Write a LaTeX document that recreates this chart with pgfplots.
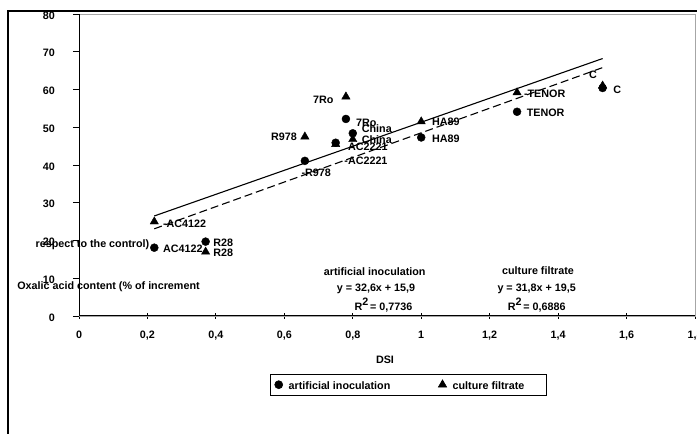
\documentclass[border=0pt]{standalone}
\usepackage{pgfplots}
\pgfplotsset{compat=1.18}
\usepackage{fontspec}
\setmainfont{Liberation Sans}
\newcommand\ff{\fontsize{10.8}{12.5}\selectfont\bfseries}
\newcommand\lstrut{\rule[-4.5bp]{0pt}{16bp}}
\begin{document}
\begin{tikzpicture}[font=\ff]
\useasboundingbox (0,0) rectangle (697bp,434bp);
\fill[white] (0,0) rectangle (697bp,434bp);
% outer frame
\draw[black, line width=2bp] (8bp,0) -- (8bp,423bp) -- (697bp,423bp);
\begin{axis}[
  at={(79bp,118bp)}, anchor=south west,
  scale only axis, width=616bp, height=302bp,
  xmin=0, xmax=1.8, ymin=0, ymax=80,
  xtick={0,0.2,0.4,0.6,0.8,1,1.2,1.4,1.6,1.8},
  ytick={0,10,20,30,40,50,60,70,80},
  xtick pos=bottom, ytick pos=left,
  xtick align=center, ytick align=outside,
  major tick length=6bp,
  x tick style={black, line width=0.8bp},
  y tick style={black, line width=0.8bp},
  axis line style={gray!70, line width=0.6bp},
  /pgf/number format/use comma,
  /pgf/number format/assume math mode=true,
  tick label style={font=\ff},
  yticklabel style={inner sep=0pt, anchor=east, xshift=-18bp, yshift=-1.5bp},
  xticklabel style={inner sep=0pt, anchor=north, yshift=-12bp},
  legend style={at={(0.535,-0.2275)}, anchor=center, draw=black, line width=0.6bp,
    font=\ff, inner xsep=4bp, inner ysep=2bp},
  legend columns=2,
  legend cell align=left,
  /tikz/every even column/.append style={column sep=46bp},
]
\draw[black, line width=1bp] (rel axis cs:0,1) -- (rel axis cs:0,0) -- (rel axis cs:1,0);
\addplot[only marks, mark=*, mark size=4bp, black, mark options={fill=black}] coordinates {
 (0.22,18.1) (0.37,19.7) (0.66,41.1) (0.75,45.9) (0.78,52.2) (0.80,48.4) (1.00,47.3) (1.28,54.1) (1.53,60.4)};
\addlegendentry{\lstrut\hspace{4bp}artificial inoculation}
\addplot[only marks, mark=triangle*, mark size=4.8bp, black, mark options={fill=black}] coordinates {
 (0.22,25.0) (0.37,17.0) (0.66,47.5) (0.75,45.5) (0.78,58.1) (0.80,46.8) (1.00,51.5) (1.28,59.2) (1.53,61.0)};
\addlegendentry{\lstrut\hspace{4bp}culture filtrate\rule{16bp}{0pt}}
\addplot[black, line width=1.1bp, forget plot] coordinates {(0.22,26.5) (1.53,68.2)};
\addplot[black, line width=1.1bp, dash pattern=on 8bp off 4bp, forget plot] coordinates {(0.22,23.1) (1.53,65.8)};
% data labels
\node[anchor=west, inner sep=0pt] at (axis cs:0.245,17.7) {AC4122};
\node[anchor=west, inner sep=0pt] at (axis cs:0.245,24.4) {-AC4122};
\node[anchor=west, inner sep=0pt] at (axis cs:0.392,19.4) {R28};
\node[anchor=west, inner sep=0pt] at (axis cs:0.392,16.7) {R28};
\node[anchor=east, inner sep=0pt] at (axis cs:0.637,47.5) {R978};
\node[anchor=west, inner sep=0pt] at (axis cs:0.650,38.0) {-R978};
\node[anchor=east, inner sep=0pt] at (axis cs:0.744,57.2) {7Ro};
\node[anchor=west, inner sep=0pt] at (axis cs:0.809,51.2) {7Ro};
\node[anchor=west, inner sep=0pt] at (axis cs:0.826,49.7) {China};
\node[anchor=west, inner sep=0pt] at (axis cs:0.826,46.6) {China};
\node[anchor=west, inner sep=0pt] at (axis cs:0.786,44.8) {AC2221};
\node[anchor=west, inner sep=0pt] at (axis cs:0.775,41.1) {-AC2221};
\node[anchor=west, inner sep=0pt] at (axis cs:1.031,51.4) {HA89};
\node[anchor=west, inner sep=0pt] at (axis cs:1.031,47.0) {HA89};
\node[anchor=west, inner sep=0pt] at (axis cs:1.300,58.8) {-TENOR};
\node[anchor=west, inner sep=0pt] at (axis cs:1.308,53.9) {TENOR};
\node[anchor=west, inner sep=0pt] at (axis cs:1.561,59.9) {C};
\node[anchor=west, inner sep=0pt] at (axis cs:1.490,63.8) {C};
\end{axis}
% y-axis title (as rendered)
\node[inner sep=0pt] at (92.5bp,{434bp-245bp}) {respect to the control)};
\node[inner sep=0pt] at (108.5bp,{434bp-287bp}) {Oxalic acid content (\% of increment};
% equations
\node[inner sep=0pt] at (374.7bp,{434bp-272bp}) {artificial inoculation};
\node[inner sep=0pt] at (376bp,{434bp-288.5bp}) {y = 32,6x + 15,9};
\node[inner sep=0pt] at (383.5bp,{434bp-305bp}) {R\raisebox{5bp}{2}\,= 0,7736};
\node[inner sep=0pt] at (538bp,{434bp-271bp}) {culture filtrate};
\node[inner sep=0pt] at (536.7bp,{434bp-289bp}) {y = 31,8x + 19,5};
\node[inner sep=0pt] at (536.7bp,{434bp-305bp}) {R\raisebox{5bp}{2}\,= 0,6886};
% x-axis title
\node[inner sep=0pt] at (385bp,{434bp-360bp}) {DSI};
\end{tikzpicture}
\end{document}
